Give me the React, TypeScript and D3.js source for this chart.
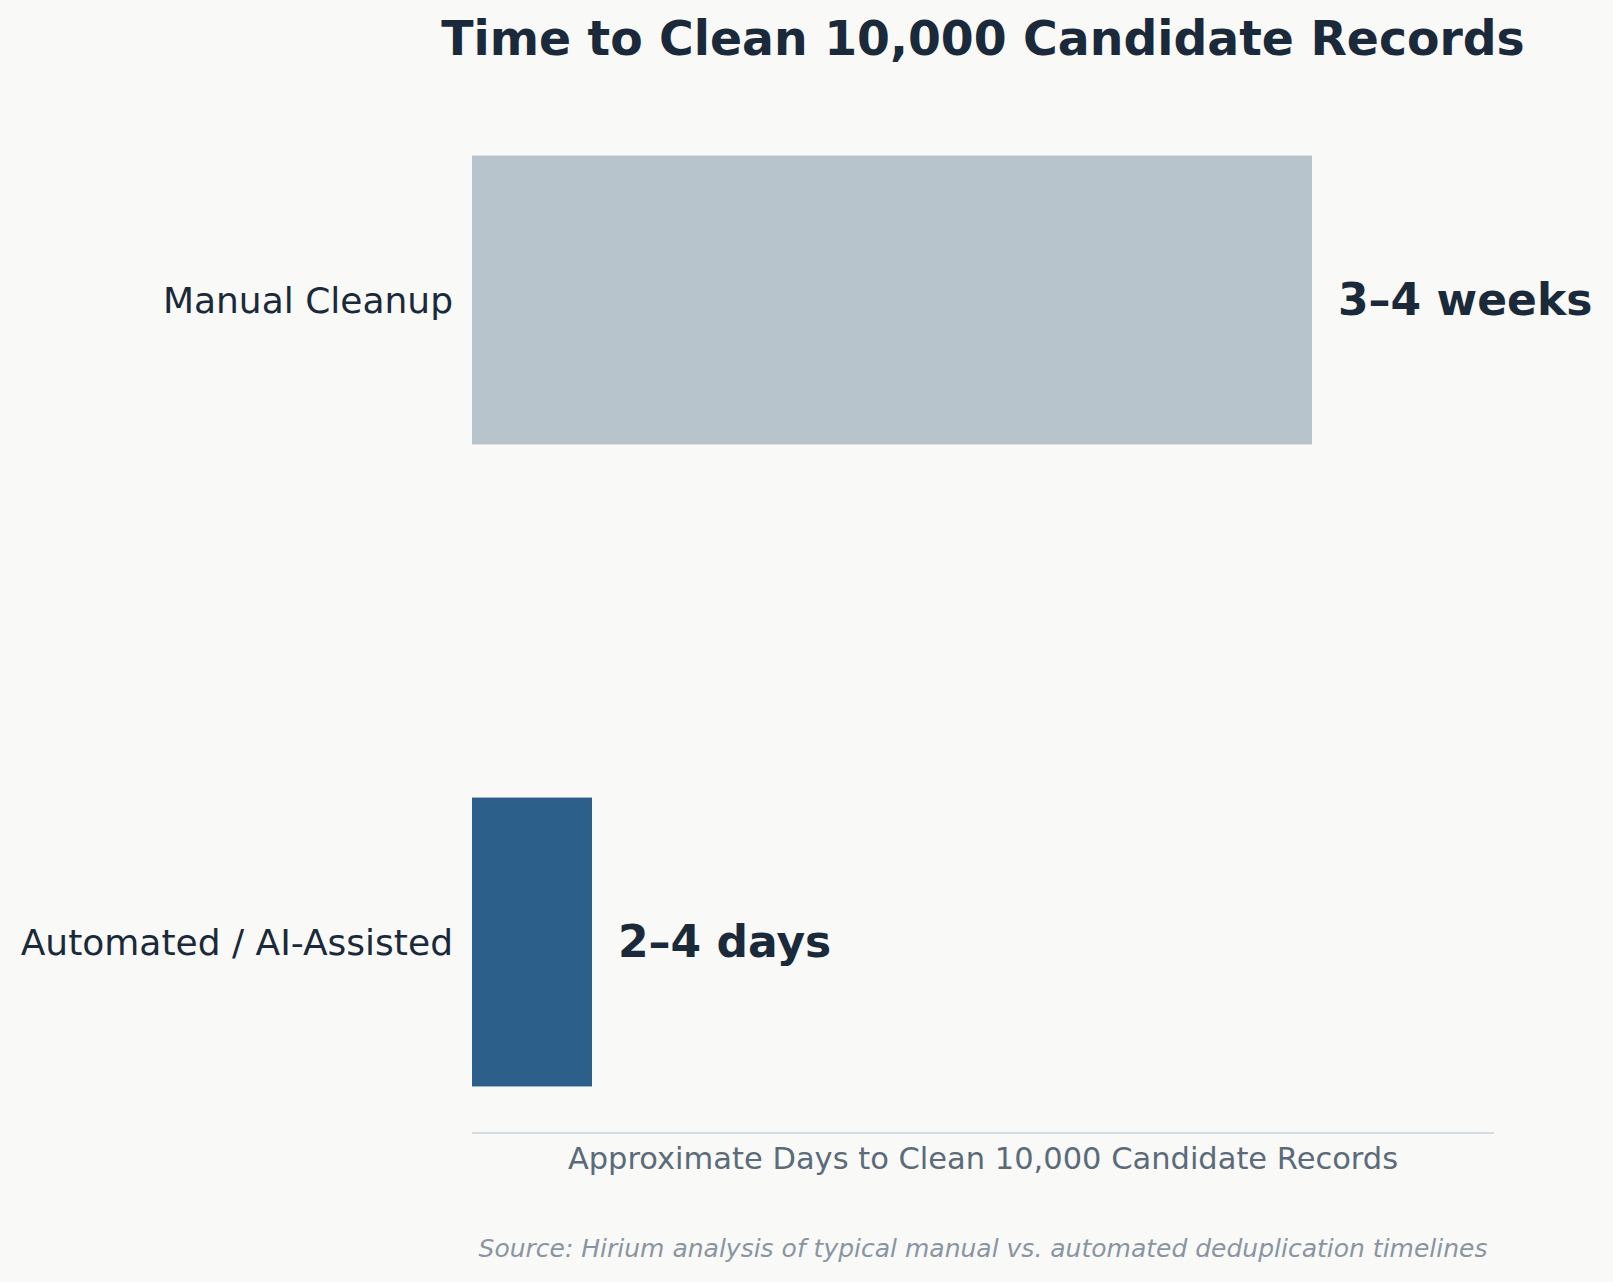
import React from 'react';
import { scaleLinear } from 'd3';

// chart data
const categories = ['Manual Cleanup', 'Automated / AI-Assisted'];
const days = [21, 3];
const valueLabels = ['3–4 weeks', '2–4 days'];
const barColors = ['#b8c4cc', '#2c5f8a'];

const W = 1613;
const H = 1282;
const left = 472;
const right = 1494;
const top = 109;
const bottom = 1133;
const font = '"DejaVu Sans", sans-serif';

export default function App() {
  const x = scaleLinear().domain([0, 25.55]).range([left, right]);
  // matplotlib-like: bars of height 0.45 around index, 5% margins
  const y = scaleLinear().domain([-0.2975, 1.2975]).range([top, bottom]);
  const barH = 0.45;

  return (
    <svg
      width={W}
      height={H}
      style={{ position: 'absolute', left: 0, top: 0, display: 'block' }}
    >
      <rect width={W} height={H} fill="#f9f9f7" />

      <text
        x={(left + right) / 2}
        y={55}
        textAnchor="middle"
        fontFamily={font}
        fontWeight="bold"
        fontSize={47.3}
        fill="#1b2a3a"
      >
        Time to Clean 10,000 Candidate Records
      </text>

      {categories.map((c, i) => {
        const y0 = y(i - barH / 2);
        const y1 = y(i + barH / 2);
        const cy = y(i);
        return (
          <g key={c}>
            <rect
              x={x(0)}
              y={y0}
              width={x(days[i]) - x(0)}
              height={y1 - y0}
              fill={barColors[i]}
            />
            <text
              x={left - 19}
              y={cy}
              dy="0.36em"
              textAnchor="end"
              fontFamily={font}
              fontSize={36}
              fill="#1b2a3a"
            >
              {c}
            </text>
            <text
              x={x(days[i]) + 26}
              y={cy}
              dy="0.34em"
              fontFamily={font}
              fontWeight="bold"
              fontSize={44}
              fill="#1b2a3a"
            >
              {valueLabels[i]}
            </text>
          </g>
        );
      })}

      <line x1={left} x2={right} y1={bottom} y2={bottom} stroke="#d5dbe2" strokeWidth={2} />

      <text
        x={(left + right) / 2}
        y={1169}
        textAnchor="middle"
        fontFamily={font}
        fontSize={30.5}
        fill="#5b6b7a"
      >
        Approximate Days to Clean 10,000 Candidate Records
      </text>

      <text
        x={(left + right) / 2}
        y={1257}
        textAnchor="middle"
        fontFamily={font}
        fontStyle="italic"
        fontSize={25}
        fill="#8a95a2"
      >
        Source: Hirium analysis of typical manual vs. automated deduplication timelines
      </text>
    </svg>
  );
}
